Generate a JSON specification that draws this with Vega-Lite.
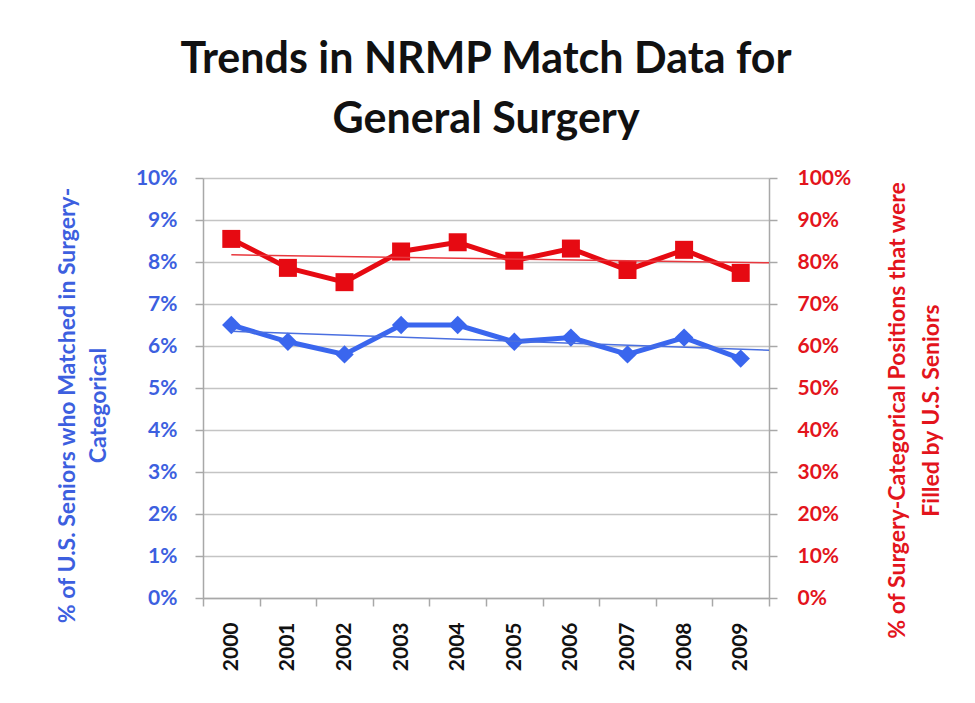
{
  "$schema": "https://vega.github.io/schema/vega-lite/v6.json",
  "width": 566,
  "height": 420,
  "autosize": {"type": "none"},
  "padding": {"left": 203, "top": 178, "right": 206, "bottom": 105},
  "background": "white",
  "title": {
    "text": ["Trends in NRMP Match Data for", "General Surgery"],
    "font": "Lato",
    "fontSize": 43,
    "fontWeight": "bold",
    "color": "#111111",
    "lineHeight": 60,
    "anchor": "middle",
    "offset": 25
  },
  "datasets": {
    "match": [
      {"year": "2000", "seniors": 0.065, "filled": 0.855},
      {"year": "2001", "seniors": 0.061, "filled": 0.786},
      {"year": "2002", "seniors": 0.058, "filled": 0.752},
      {"year": "2003", "seniors": 0.065, "filled": 0.825},
      {"year": "2004", "seniors": 0.065, "filled": 0.847},
      {"year": "2005", "seniors": 0.061, "filled": 0.803},
      {"year": "2006", "seniors": 0.062, "filled": 0.832},
      {"year": "2007", "seniors": 0.058, "filled": 0.781},
      {"year": "2008", "seniors": 0.062, "filled": 0.829},
      {"year": "2009", "seniors": 0.057, "filled": 0.774}
    ],
    "trend": [
      {"pos": 2000, "seniors": 0.0635, "filled": 0.817},
      {"pos": 2009.5, "seniors": 0.059, "filled": 0.798}
    ]
  },
  "config": {
    "view": {"stroke": null},
    "axis": {
      "labelFont": "Lato",
      "titleFont": "Lato",
      "labelFontWeight": "bold",
      "titleFontWeight": "bold",
      "domainColor": "#a8a8a8",
      "tickColor": "#a8a8a8",
      "domainWidth": 1.5,
      "tickWidth": 1.5
    }
  },
  "layer": [
    {
      "data": {"name": "match"},
      "mark": {"type": "line", "color": "#3a66ee", "strokeWidth": 5,
        "point": {"shape": "diamond", "size": 340, "filled": true, "color": "#3a66ee", "opacity": 1}},
      "encoding": {
        "x": {"field": "year", "type": "ordinal", "scale": {"paddingInner": 0, "paddingOuter": 0},
          "axis": {"title": null, "labelAngle": -90, "labelFontSize": 21, "labelColor": "#111111",
            "labelPadding": 16, "tickSize": 8, "tickBand": "extent", "grid": false,
            "labelAlign": "right", "labelBaseline": "middle"}},
        "y": {"field": "seniors", "type": "quantitative",
          "scale": {"domain": [0, 0.1], "nice": false},
          "axis": {"orient": "left", "values": [0, 0.01, 0.02, 0.03, 0.04, 0.05, 0.06, 0.07, 0.08, 0.09, 0.1],
            "format": ".0%", "labelFontSize": 21, "labelColor": "#3d5fdf", "labelPadding": 18, "tickSize": 8,
            "grid": true, "gridColor": "#c4c4c4", "gridWidth": 1.5,
            "title": ["% of U.S. Seniors who Matched in Surgery-", "Categorical"],
            "titleColor": "#3d5fdf", "titleFontSize": 23, "titleLineHeight": 31, "titlePadding": 25,
            "titleAngle": -90, "titleY": 227}}
      }
    },
    {
      "data": {"name": "match"},
      "mark": {"type": "line", "color": "#e60a12", "strokeWidth": 5,
        "point": {"shape": "square", "size": 324, "filled": true, "color": "#e60a12", "opacity": 1}},
      "encoding": {
        "x": {"field": "year", "type": "ordinal", "scale": {"paddingInner": 0, "paddingOuter": 0}, "axis": null},
        "y": {"field": "filled", "type": "quantitative",
          "scale": {"domain": [0, 1], "nice": false},
          "axis": {"orient": "right", "values": [0, 0.1, 0.2, 0.3, 0.4, 0.5, 0.6, 0.7, 0.8, 0.9, 1],
            "format": ".0%", "labelFontSize": 21, "labelColor": "#e3141c", "labelPadding": 20, "tickSize": 8,
            "grid": false,
            "title": ["% of Surgery-Categorical Positions  that were", "Filled by U.S. Seniors"],
            "titleColor": "#e3141c", "titleFontSize": 23, "titleLineHeight": 34, "titlePadding": 25,
            "titleAngle": -90, "titleY": 232}}
      }
    },
    {
      "data": {"name": "trend"},
      "mark": {"type": "line", "color": "#4a6fe0", "strokeWidth": 1.5},
      "encoding": {
        "x": {"field": "pos", "type": "quantitative", "scale": {"domain": [1999.5, 2009.5], "nice": false, "zero": false}, "axis": null},
        "y": {"field": "seniors", "type": "quantitative", "scale": {"domain": [0, 0.1], "nice": false}, "axis": null}
      }
    },
    {
      "data": {"name": "trend"},
      "mark": {"type": "line", "color": "#e8383e", "strokeWidth": 1.5},
      "encoding": {
        "x": {"field": "pos", "type": "quantitative", "scale": {"domain": [1999.5, 2009.5], "nice": false, "zero": false}, "axis": null},
        "y": {"field": "filled", "type": "quantitative", "scale": {"domain": [0, 1], "nice": false}, "axis": null}
      }
    }
  ],
  "resolve": {"scale": {"x": "independent", "y": "independent"}}
}
